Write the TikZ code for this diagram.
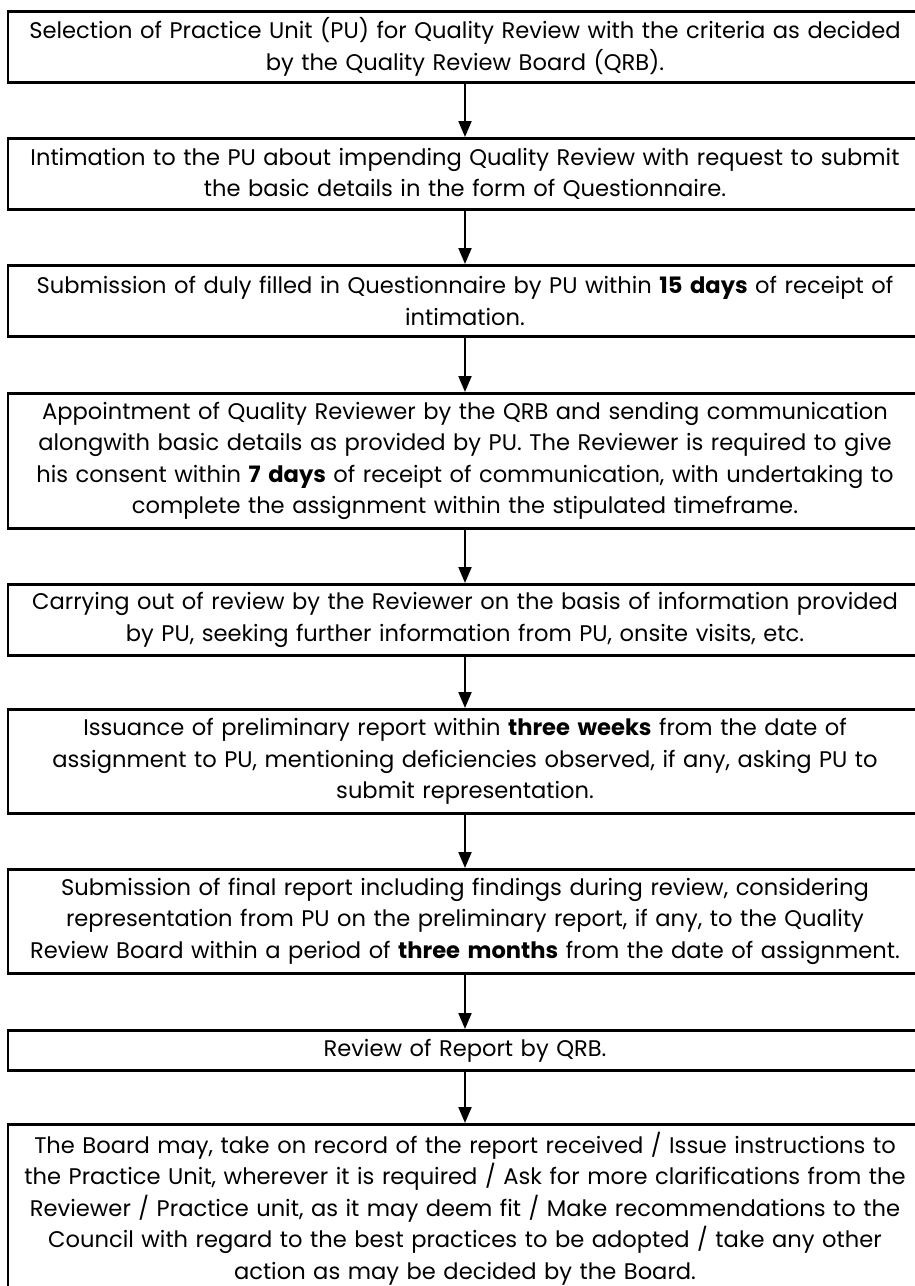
\documentclass[tikz,border=0pt]{standalone}
\usepackage{fontspec}
\setmainfont{Poppins}
\usetikzlibrary{arrows.meta}
\tikzset{
  stepbox/.style={draw, line width=2.8pt, minimum width=914pt, text width=912pt,
    align=center, inner sep=0pt, anchor=north,
    font=\fontsize{22.6}{31.5}\selectfont},
  flow/.style={line width=2pt, -{Triangle[length=16pt,width=13pt]}}
}
\begin{document}
\begin{tikzpicture}[x=1pt,y=-1pt]
\useasboundingbox (0,0) rectangle (914,1286);
\node[stepbox, minimum height=71pt] (b1) at (465,10) {Selection of Practice Unit (PU) for Quality Review with the criteria as decided\\ by the Quality Review Board (QRB).};
\node[stepbox, minimum height=71pt] (b2) at (465,137) {Intimation to the PU about impending Quality Review with request to submit\\ the basic details in the form of Questionnaire.};
\node[stepbox, minimum height=71pt] (b3) at (465,264) {Submission of duly filled in Questionnaire by PU within \textbf{15 days} of receipt of\\ intimation.};
\node[stepbox, minimum height=135pt] (b4) at (465,392) {Appointment of Quality Reviewer by the QRB and sending communication\\ alongwith basic details as provided by PU. The Reviewer is required to give\\ his consent within \textbf{7 days} of receipt of communication, with undertaking to\\ complete the assignment within the stipulated timeframe.};
\node[stepbox, minimum height=71pt] (b5) at (465,583) {Carrying out of review by the Reviewer on the basis of information provided\\ by PU, seeking further information from PU, onsite visits, etc.};
\node[stepbox, minimum height=104pt] (b6) at (465,708) {Issuance of preliminary report within \textbf{three weeks} from the date of\\ assignment to PU, mentioning deficiencies observed, if any, asking PU to\\ submit representation.};
\node[stepbox, minimum height=104pt] (b7) at (465,868) {Submission of final report including findings during review, considering\\ representation from PU on the preliminary report, if any, to the Quality\\ Review Board within a period of \textbf{three months} from the date of assignment.};
\node[stepbox, minimum height=40pt] (b8) at (465,1029) {Review of Report by QRB.};
\node[stepbox, minimum height=168pt] (b9) at (465,1123) {The Board may, take on record of the report received / Issue instructions to\\ the Practice Unit, wherever it is required / Ask for more clarifications from the\\ Reviewer / Practice unit, as it may deem fit / Make recommendations to the\\ Council with regard to the best practices to be adopted / take any other\\ action as may be decided by the Board.};
\draw[flow] (b1.south) -- (b2.north);
\draw[flow] (b2.south) -- (b3.north);
\draw[flow] (b3.south) -- (b4.north);
\draw[flow] (b4.south) -- (b5.north);
\draw[flow] (b5.south) -- (b6.north);
\draw[flow] (b6.south) -- (b7.north);
\draw[flow] (b7.south) -- (b8.north);
\draw[flow] (b8.south) -- (b9.north);
\end{tikzpicture}
\end{document}
